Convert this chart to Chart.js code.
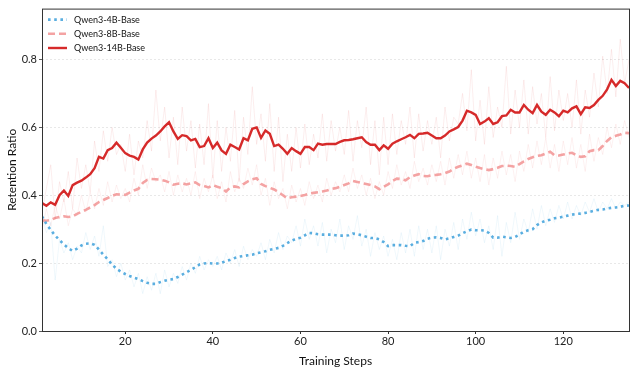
<!DOCTYPE html>
<html lang="en">
<head>
<meta charset="UTF-8">
<title>Retention Ratio</title>
<script src="https://cdn.jsdelivr.net/npm/chart.js"></script>
<style>
  html, body { margin: 0; padding: 0; background: #fff; }
  #wrap { width: 635px; height: 368px; }
</style>
</head>
<body>
<div id="wrap"><canvas id="retChart" width="635" height="368"></canvas></div>
<script>
// training steps 1..135
const steps = Array.from({ length: 135 }, (_, i) => i + 1);
const xTicks = [20, 40, 60, 80, 100, 120];
const yTicks = [0.0, 0.2, 0.4, 0.6, 0.8];
const seriesNames = ['Qwen3-4B-Base', 'Qwen3-8B-Base', 'Qwen3-14B-Base'];

// smoothed curves
const smooth4B = [
  0.338, 0.315, 0.298, 0.281, 0.268, 0.255, 0.244, 0.236, 0.243, 0.252,
  0.257, 0.258, 0.254, 0.240, 0.225, 0.211, 0.196, 0.183, 0.175, 0.168,
  0.162, 0.157, 0.153, 0.147, 0.142, 0.139, 0.139, 0.144, 0.148, 0.151,
  0.153, 0.159, 0.166, 0.173, 0.180, 0.188, 0.196, 0.199, 0.200, 0.199,
  0.199, 0.201, 0.206, 0.210, 0.215, 0.219, 0.221, 0.223, 0.225, 0.229,
  0.232, 0.235, 0.239, 0.242, 0.245, 0.251, 0.259, 0.266, 0.272, 0.275,
  0.282, 0.289, 0.288, 0.285, 0.284, 0.284, 0.284, 0.282, 0.281, 0.281,
  0.282, 0.287, 0.285, 0.282, 0.278, 0.274, 0.274, 0.270, 0.262, 0.250,
  0.253, 0.253, 0.253, 0.251, 0.250, 0.260, 0.262, 0.265, 0.272, 0.275,
  0.276, 0.274, 0.270, 0.273, 0.277, 0.281, 0.288, 0.294, 0.299, 0.297,
  0.297, 0.296, 0.289, 0.275, 0.275, 0.278, 0.276, 0.274, 0.277, 0.284,
  0.293, 0.297, 0.300, 0.312, 0.320, 0.325, 0.328, 0.332, 0.334, 0.337,
  0.340, 0.343, 0.345, 0.346, 0.348, 0.351, 0.354, 0.357, 0.358, 0.361,
  0.363, 0.364, 0.366, 0.369, 0.370
];
const smooth8B = [
  0.326, 0.325, 0.327, 0.333, 0.336, 0.338, 0.336, 0.338, 0.345, 0.351,
  0.357, 0.364, 0.371, 0.380, 0.386, 0.392, 0.398, 0.403, 0.402, 0.401,
  0.408, 0.414, 0.419, 0.436, 0.445, 0.448, 0.447, 0.446, 0.443, 0.438,
  0.431, 0.434, 0.435, 0.432, 0.435, 0.438, 0.430, 0.427, 0.423, 0.430,
  0.425, 0.421, 0.411, 0.423, 0.426, 0.423, 0.433, 0.441, 0.447, 0.450,
  0.433, 0.427, 0.422, 0.417, 0.409, 0.400, 0.391, 0.394, 0.396, 0.398,
  0.401, 0.405, 0.407, 0.409, 0.411, 0.414, 0.418, 0.421, 0.425, 0.430,
  0.435, 0.442, 0.439, 0.436, 0.433, 0.430, 0.426, 0.418, 0.425, 0.432,
  0.442, 0.449, 0.448, 0.444, 0.453, 0.458, 0.462, 0.457, 0.456, 0.459,
  0.460, 0.462, 0.465, 0.470, 0.478, 0.484, 0.488, 0.493, 0.489, 0.484,
  0.480, 0.477, 0.474, 0.477, 0.481, 0.486, 0.487, 0.486, 0.484, 0.492,
  0.500, 0.507, 0.512, 0.516, 0.518, 0.523, 0.528, 0.518, 0.517, 0.520,
  0.523, 0.525, 0.518, 0.513, 0.515, 0.530, 0.533, 0.533, 0.545, 0.560,
  0.571, 0.575, 0.579, 0.584, 0.583
];
const smooth14B = [
  0.377, 0.369, 0.379, 0.372, 0.400, 0.414, 0.398, 0.430, 0.437, 0.443,
  0.452, 0.462, 0.480, 0.513, 0.508, 0.533, 0.539, 0.555, 0.540, 0.524,
  0.517, 0.513, 0.505, 0.535, 0.555, 0.567, 0.576, 0.588, 0.603, 0.615,
  0.588, 0.566, 0.577, 0.574, 0.562, 0.566, 0.542, 0.545, 0.568, 0.539,
  0.555, 0.532, 0.522, 0.549, 0.542, 0.535, 0.568, 0.562, 0.596, 0.600,
  0.569, 0.591, 0.581, 0.545, 0.549, 0.537, 0.522, 0.539, 0.530, 0.522,
  0.542, 0.542, 0.533, 0.552, 0.549, 0.551, 0.551, 0.551, 0.557, 0.562,
  0.563, 0.565, 0.568, 0.571, 0.557, 0.549, 0.549, 0.533, 0.547, 0.537,
  0.552, 0.559, 0.565, 0.571, 0.578, 0.568, 0.581, 0.582, 0.584, 0.576,
  0.568, 0.568, 0.576, 0.588, 0.594, 0.601, 0.620, 0.649, 0.644, 0.637,
  0.610, 0.617, 0.627, 0.610, 0.615, 0.633, 0.635, 0.652, 0.644, 0.644,
  0.666, 0.652, 0.642, 0.666, 0.646, 0.637, 0.652, 0.644, 0.633, 0.649,
  0.644, 0.656, 0.662, 0.639, 0.659, 0.657, 0.666, 0.681, 0.693, 0.712,
  0.740, 0.722, 0.737, 0.730, 0.716
];

// raw (unsmoothed) values, drawn faint behind
const raw4B = [
  0.34, 0.29, 0.32, 0.15, 0.27, 0.23, 0.26, 0.21, 0.25, 0.23,
  0.29, 0.24, 0.28, 0.22, 0.31, 0.19, 0.21, 0.16, 0.20, 0.15,
  0.18, 0.13, 0.17, 0.11, 0.16, 0.12, 0.17, 0.11, 0.18, 0.13,
  0.17, 0.14, 0.19, 0.15, 0.20, 0.17, 0.22, 0.18, 0.21, 0.19,
  0.22, 0.18, 0.23, 0.20, 0.24, 0.19, 0.25, 0.21, 0.24, 0.22,
  0.26, 0.21, 0.27, 0.23, 0.29, 0.24, 0.28, 0.26, 0.31, 0.25,
  0.33, 0.27, 0.31, 0.25, 0.32, 0.23, 0.30, 0.26, 0.33, 0.24,
  0.31, 0.27, 0.34, 0.25, 0.30, 0.22, 0.29, 0.24, 0.28, 0.22,
  0.27, 0.21, 0.29, 0.23, 0.30, 0.22, 0.31, 0.24, 0.30, 0.23,
  0.31, 0.21, 0.30, 0.25, 0.32, 0.24, 0.33, 0.27, 0.35, 0.28,
  0.33, 0.26, 0.31, 0.24, 0.34, 0.22, 0.32, 0.26, 0.35, 0.27,
  0.33, 0.29, 0.36, 0.30, 0.37, 0.31, 0.36, 0.32, 0.37, 0.33,
  0.38, 0.33, 0.37, 0.34, 0.38, 0.35, 0.39, 0.35, 0.38, 0.36,
  0.39, 0.36, 0.38, 0.37, 0.38
];
const raw8B = [
  0.30, 0.36, 0.31, 0.37, 0.33, 0.39, 0.31, 0.36, 0.34, 0.40,
  0.35, 0.41, 0.36, 0.42, 0.37, 0.44, 0.38, 0.43, 0.39, 0.42,
  0.38, 0.45, 0.40, 0.49, 0.42, 0.48, 0.44, 0.46, 0.41, 0.47,
  0.40, 0.46, 0.41, 0.45, 0.40, 0.47, 0.39, 0.45, 0.41, 0.46,
  0.39, 0.44, 0.38, 0.47, 0.41, 0.45, 0.42, 0.48, 0.43, 0.49,
  0.40, 0.45, 0.37, 0.44, 0.39, 0.42, 0.36, 0.43, 0.38, 0.42,
  0.37, 0.44, 0.39, 0.43, 0.38, 0.45, 0.40, 0.44, 0.41, 0.46,
  0.41, 0.48, 0.42, 0.46, 0.40, 0.45, 0.39, 0.44, 0.40, 0.47,
  0.42, 0.49, 0.43, 0.47, 0.42, 0.50, 0.44, 0.48, 0.43, 0.49,
  0.44, 0.50, 0.43, 0.51, 0.45, 0.52, 0.46, 0.53, 0.45, 0.51,
  0.44, 0.52, 0.43, 0.51, 0.45, 0.53, 0.46, 0.52, 0.44, 0.53,
  0.47, 0.55, 0.48, 0.56, 0.49, 0.57, 0.48, 0.55, 0.47, 0.56,
  0.49, 0.57, 0.48, 0.55, 0.47, 0.58, 0.50, 0.57, 0.52, 0.60,
  0.54, 0.61, 0.55, 0.62, 0.57
];
const raw14B = [
  0.35, 0.42, 0.49, 0.33, 0.44, 0.38, 0.47, 0.36, 0.51, 0.42,
  0.49, 0.41, 0.56, 0.47, 0.59, 0.50, 0.60, 0.52, 0.55, 0.47,
  0.58, 0.46, 0.56, 0.51, 0.62, 0.53, 0.71, 0.56, 0.66, 0.51,
  0.63, 0.49, 0.66, 0.53, 0.62, 0.48, 0.61, 0.49, 0.67, 0.45,
  0.62, 0.47, 0.60, 0.50, 0.65, 0.44, 0.63, 0.52, 0.72, 0.55,
  0.64, 0.50, 0.67, 0.47, 0.63, 0.44, 0.58, 0.47, 0.60, 0.48,
  0.61, 0.49, 0.58, 0.51, 0.64, 0.50, 0.62, 0.53, 0.60, 0.52,
  0.65, 0.50, 0.62, 0.54, 0.66, 0.49, 0.62, 0.46, 0.63, 0.49,
  0.64, 0.52, 0.62, 0.55, 0.66, 0.51, 0.64, 0.53, 0.62, 0.55,
  0.63, 0.51, 0.66, 0.56, 0.63, 0.61, 0.70, 0.59, 0.77, 0.56,
  0.68, 0.55, 0.72, 0.57, 0.66, 0.60, 0.78, 0.58, 0.71, 0.60,
  0.74, 0.58, 0.72, 0.61, 0.70, 0.57, 0.75, 0.59, 0.71, 0.62,
  0.70, 0.60, 0.74, 0.58, 0.71, 0.63, 0.76, 0.66, 0.81, 0.70,
  0.83, 0.69, 0.86, 0.73, 0.80
];

const FONT = 'Lato, "DejaVu Sans", sans-serif';
const blue = '#5aaee0';
const pink = '#f4a3a3';
const red = '#d62a2a';

function pts(vals) {
    return vals.map((v, i) => ({ x: steps[i], y: v }));
}

function rawSet(vals, color) {
    return {
        data: pts(vals),
        borderColor: color,
        borderWidth: 1,
        pointRadius: 0,
        tension: 0,
        isRaw: true
    };
}

// legend drawn inside the plot, upper left
const insideLegend = {
    id: 'insideLegend',
    afterDatasetsDraw(chart) {
        const ctx = chart.ctx;
        const left = chart.chartArea.left + 6;
        let y = chart.chartArea.top + 11;
        ctx.save();
        chart.data.datasets.forEach(ds => {
            if (ds.isRaw) return;
            ctx.beginPath();
            ctx.setLineDash(ds.borderDash || []);
            ctx.lineWidth = ds.borderWidth;
            ctx.strokeStyle = ds.borderColor;
            ctx.moveTo(left, y);
            ctx.lineTo(left + 19, y);
            ctx.stroke();
            ctx.setLineDash([]);
            ctx.fillStyle = '#111';
            ctx.font = '9px ' + FONT;
            ctx.textBaseline = 'middle';
            ctx.fillText(ds.label, left + 26, y);
            y += 14.2;
        });
        ctx.restore();
    }
};

// box round the plot
const frame = {
    id: 'frame',
    afterDraw(chart) {
        const a = chart.chartArea;
        const ctx = chart.ctx;
        ctx.save();
        ctx.strokeStyle = '#333';
        ctx.lineWidth = 1;
        ctx.strokeRect(a.left + 0.5, a.top + 0.5, a.right - a.left, a.bottom - a.top);
        ctx.restore();
    }
};

const ctx = document.getElementById('retChart').getContext('2d');
new Chart(ctx, {
    type: 'line',
    data: {
        datasets: [
            rawSet(raw4B, 'rgba(90,174,224,0.09)'),
            rawSet(raw8B, 'rgba(244,163,163,0.15)'),
            rawSet(raw14B, 'rgba(214,42,42,0.08)'),
            {
                label: seriesNames[0],
                data: pts(smooth4B),
                borderColor: blue,
                borderWidth: 2.6,
                borderDash: [2.6, 3.6],
                pointRadius: 0,
                tension: 0
            },
            {
                label: seriesNames[1],
                data: pts(smooth8B),
                borderColor: pink,
                borderWidth: 2.6,
                borderDash: [7, 4],
                pointRadius: 0,
                tension: 0
            },
            {
                label: seriesNames[2],
                data: pts(smooth14B),
                borderColor: red,
                borderWidth: 2.4,
                pointRadius: 0,
                tension: 0
            }
        ]
    },
    options: {
        responsive: false,
        animation: false,
        devicePixelRatio: 1,
        layout: { padding: { top: 5, right: 6, left: 5, bottom: 0 } },
        plugins: {
            legend: { display: false },
            tooltip: { enabled: false }
        },
        scales: {
            x: {
                type: 'linear',
                min: 1,
                max: 135,
                afterBuildTicks: s => { s.ticks = xTicks.map(v => ({ value: v })); },
                afterFit: s => { s.height = 37; },
                ticks: { color: '#222', font: { family: FONT, size: 11 }, padding: 1, maxRotation: 0 },
                grid: { display: true, drawOnChartArea: false, tickLength: 3, tickColor: '#333' },
                border: { display: false },
                title: {
                    display: true,
                    text: 'Training Steps',
                    color: '#111',
                    font: { family: FONT, size: 12 },
                    padding: { top: 0, bottom: 0 }
                }
            },
            y: {
                min: 0,
                max: 0.95,
                afterBuildTicks: s => { s.ticks = yTicks.map(v => ({ value: v })); },
                afterFit: s => { s.width = 37; },
                ticks: {
                    color: '#222',
                    font: { family: FONT, size: 11 },
                    padding: 2,
                    callback: v => v.toFixed(1)
                },
                grid: { color: '#e2e2e2', tickLength: 3, tickColor: '#333', lineWidth: 0.8 },
                border: { display: false, dash: [2, 2] },
                title: {
                    display: true,
                    text: 'Retention Ratio',
                    color: '#111',
                    font: { family: FONT, size: 12 },
                    padding: { top: 0, bottom: 0 }
                }
            }
        }
    },
    plugins: [insideLegend, frame]
});
</script>
</body>
</html>
